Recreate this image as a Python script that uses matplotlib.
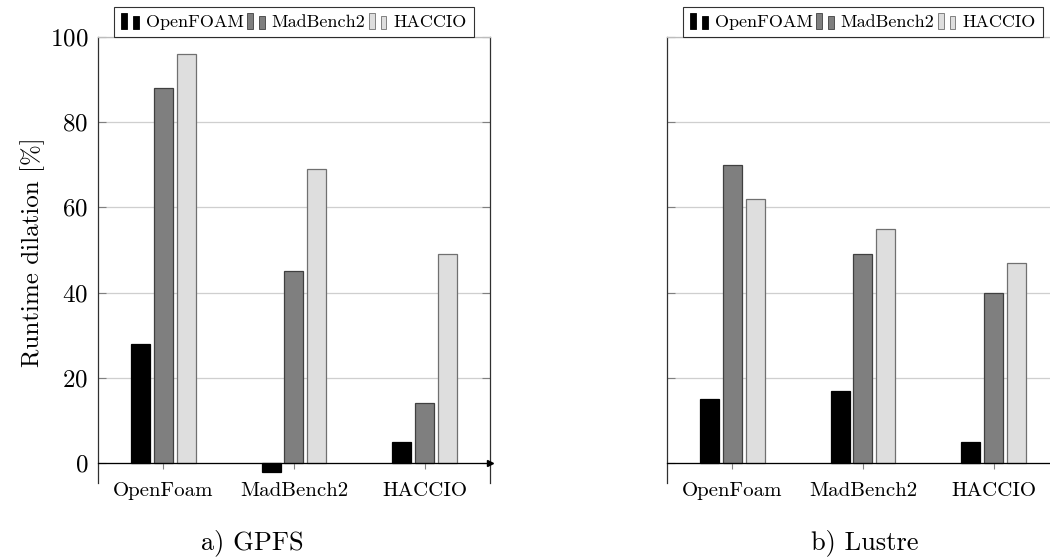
import matplotlib
matplotlib.use("Agg")
import matplotlib.pyplot as plt
import numpy as np
from matplotlib.legend_handler import HandlerBase
from matplotlib.patches import Rectangle

plt.rcParams['font.family'] = 'cmr10'
plt.rcParams['mathtext.fontset'] = 'cm'
plt.rcParams['axes.formatter.use_mathtext'] = True
plt.rcParams['axes.unicode_minus'] = False

# categorias del eje x y series
categorias = ['OpenFoam', 'MadBench2', 'HACCIO']
series = ['OpenFOAM', 'MadBench2', 'HACCIO']
colores = ['#000000', '#7f7f7f', '#dedede']
bordes = ['#000000', '#404040', '#707070']

# a) GPFS
gpfs_openfoam = [28, -2, 5]
gpfs_madbench = [88, 45, 14]
gpfs_haccio = [96, 69, 49]

# b) Lustre
lustre_openfoam = [15, 17, 5]
lustre_madbench = [70, 49, 40]
lustre_haccio = [62, 55, 47]

yticks = [0, 20, 40, 60, 80, 100]


class DosBarras(HandlerBase):
    # leyenda estilo pgfplots ybar: dos barritas
    def create_artists(self, legend, orig_handle, xdescent, ydescent,
                       width, height, fontsize, trans):
        fc = orig_handle.get_facecolor()
        ec = orig_handle.get_edgecolor()
        w = width * 0.3
        r1 = Rectangle((-xdescent, -ydescent - 1.5), w, height * 1.25,
                       facecolor=fc, edgecolor=ec, lw=0.6, transform=trans)
        r2 = Rectangle((-xdescent + width * 0.58, -ydescent - 1.5), w, height * 1.0,
                       facecolor=fc, edgecolor=ec, lw=0.6, transform=trans)
        return [r1, r2]


def graficar(ax, datos, titulo, etiquetas_y, centro):
    x = np.arange(len(categorias))
    ancho = 0.145
    desp = [-0.175, 0.0, 0.175]
    manejadores = []
    for i in range(3):
        b = ax.bar(x + desp[i], datos[i], ancho, color=colores[i],
                   edgecolor=bordes[i], linewidth=0.9, label=series[i], zorder=3)
        manejadores.append(b.patches[0])

    ax.set_xlim(-0.5, 2.5)
    ax.set_ylim(-4.7, 100)
    ax.set_xticks(x)
    ax.set_xticklabels(categorias)
    ax.set_yticks(yticks)
    ax.grid(axis='y', color='#cfcfcf', lw=0.9, zorder=0)

    ax.spines['bottom'].set_position(('data', 0))
    ax.spines['bottom'].set_color('#000000')
    ax.spines['bottom'].set_linewidth(0.9)
    ax.spines['bottom'].set_zorder(4)
    ax.spines['top'].set_color('#bdbdbd')
    ax.spines['left'].set_color('#303030')
    ax.spines['right'].set_color('#303030')
    for s in ['left', 'right', 'top']:
        ax.spines[s].set_linewidth(0.9)

    ax.tick_params(axis='x', direction='out', length=4, color='#808080',
                   pad=10, top=False, labelsize=15)
    ax.tick_params(axis='y', direction='in', length=6, color='#808080',
                   left=True, right=True, labelsize=18, pad=7,
                   labelleft=etiquetas_y)

    # flecha al final del eje x
    ax.plot(1, 0, '>', color='black', markersize=4,
            transform=ax.get_yaxis_transform(), clip_on=False, zorder=5)

    leg = ax.legend(handles=manejadores, labels=series, loc='lower center',
                    bbox_to_anchor=(0.5, 1.0),
                    ncol=3, fontsize=13, frameon=True, fancybox=False,
                    handlelength=1.1, handleheight=0.75, handletextpad=0.25,
                    columnspacing=0.2, borderpad=0.4, borderaxespad=0.0,
                    handler_map={Rectangle: DosBarras()})
    leg.get_frame().set_edgecolor('black')
    leg.get_frame().set_linewidth(0.8)

    fig.text(centro / 1050, 0.016, titulo, ha='center', va='baseline',
             fontsize=19)


fig = plt.figure(figsize=(10.5, 5.58), dpi=100)
ax1 = fig.add_axes([0.0933, 0.1344, 0.3733, 0.7993])
ax2 = fig.add_axes([0.6352, 0.1344, 0.3733, 0.7993])

graficar(ax1, [gpfs_openfoam, gpfs_madbench, gpfs_haccio], 'a) GPFS', True, 252)
graficar(ax2, [lustre_openfoam, lustre_madbench, lustre_haccio], 'b) Lustre', False, 865)

ax1.set_ylabel('Runtime dilation [%]', fontsize=18)
ax1.yaxis.set_label_coords(-0.135, 0.518)

fig.savefig('out.png', dpi=100)
